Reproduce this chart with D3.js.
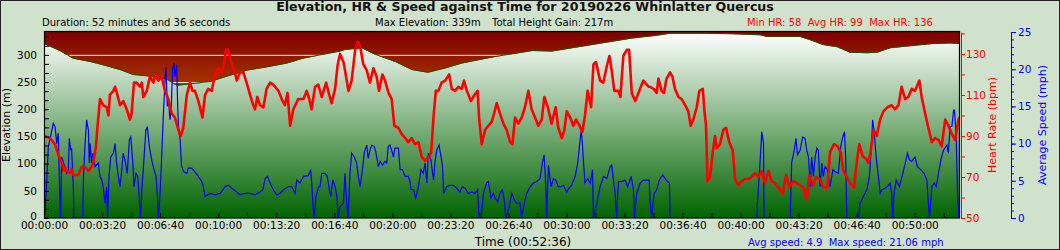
<!DOCTYPE html>
<html>
<head>
<meta charset="utf-8">
<script src="https://cdn.jsdelivr.net/npm/d3@7"></script>
<style>
  body { margin: 0; background: #d0e2cc; }
  svg { display: block; font-family: "DejaVu Sans", Verdana, sans-serif; }
</style>
</head>
<body>
<svg id="chart" width="1060" height="250"></svg>
<script>
// Elevation profile (seconds, metres)
const elevTime = [0, 55, 100, 159, 203, 262, 307, 365, 424, 458, 503, 572, 631, 700, 768, 837, 892, 961, 1020, 1037, 1096, 1141, 1210, 1268, 1323, 1382, 1440, 1496, 1554, 1613, 1682, 1750, 1819, 1888, 1957, 2026, 2095, 2123, 2157, 2260, 2374, 2467, 2491, 2605, 2640, 2684, 2733, 2777, 2836, 2870, 2915, 2984, 3063, 3122, 3156];
const elevValue = [320, 307, 293, 287, 281, 272, 263, 260, 254, 243, 246, 250, 260, 271, 277, 284, 293, 300, 306, 309, 312, 300, 287, 272, 267, 275, 284, 290, 296, 301, 307, 306, 312, 318, 324, 330, 334, 336, 339, 339, 338, 336, 333, 333, 327, 318, 314, 304, 303, 304, 312, 316, 320, 321, 320];

// Heart rate (seconds, bpm)
const hrTime = [0, 20, 38, 49, 61, 67, 72, 78, 90, 95, 101, 118, 130, 141, 153, 164, 170, 179, 184, 193, 204, 216, 222, 227, 239, 245, 253, 262, 273, 285, 296, 302, 310, 319, 331, 337, 342, 354, 365, 377, 382, 394, 405, 417, 428, 440, 451, 463, 471, 480, 492, 503, 512, 520, 532, 546, 555, 566, 578, 589, 601, 612, 620, 627, 635, 647, 658, 664, 675, 687, 698, 710, 721, 727, 735, 744, 756, 767, 779, 790, 808, 819, 830, 839, 848, 859, 876, 894, 905, 914, 922, 934, 945, 957, 972, 983, 991, 1003, 1012, 1020, 1032,
  1037, 1049, 1060, 1072, 1081, 1089, 1100, 1112, 1123, 1135, 1146, 1154, 1166, 1175, 1187, 1198, 1207, 1221, 1232, 1244, 1255, 1267, 1278, 1290, 1301, 1313, 1327, 1334, 1342, 1350, 1359, 1370, 1382, 1396, 1405, 1416, 1428, 1439, 1447, 1457, 1471, 1483, 1494, 1499, 1508, 1520, 1531, 1543, 1551, 1560, 1571, 1583, 1594, 1606, 1614, 1623, 1634, 1646, 1657, 1669, 1680, 1692, 1703, 1715, 1724, 1736, 1749, 1763, 1772, 1784, 1793, 1801, 1813, 1824, 1833, 1845, 1855, 1864, 1873, 1885, 1893, 1902, 1916, 1927, 1939, 1948, 1956, 1965, 1979, 1986, 1996, 2008, 2016, 2025, 2037, 2048, 2065, 2083,
  2088, 2100, 2111, 2117, 2128, 2136, 2145, 2157, 2165, 2174, 2186, 2197, 2209, 2220, 2228, 2237, 2249, 2258, 2270, 2275, 2281, 2286, 2295, 2304, 2312, 2318, 2329, 2341, 2350, 2361, 2373, 2381, 2392, 2404, 2415, 2427, 2438, 2450, 2461, 2473, 2484, 2496, 2507, 2519, 2530, 2545, 2557, 2568, 2582, 2593, 2605, 2616, 2628, 2637, 2649, 2660, 2674, 2685, 2699, 2708, 2722, 2734, 2745, 2754, 2766, 2777, 2791, 2800, 2809, 2821, 2832, 2840, 2848, 2858, 2869, 2881, 2892, 2906, 2921, 2932, 2944, 2955, 2967, 2978, 2990, 3001, 3016, 3024, 3036, 3047, 3059, 3070, 3082, 3093, 3105, 3116, 3128, 3139, 3151, 3156];
const hrValue = [90, 89, 86, 81, 77, 73, 75, 73, 72, 74, 71, 71, 75, 75, 73, 75, 77, 85, 94, 108, 105, 104, 100, 110, 112, 114, 110, 105, 107, 103, 98, 101, 116, 116, 114, 116, 109, 112, 119, 116, 120, 117, 119, 112, 108, 101, 99, 93, 90, 94, 110, 116, 112, 112, 107, 99, 110, 113, 112, 120, 123, 121, 125, 132, 132, 125, 121, 117, 121, 121, 116, 110, 105, 103, 109, 105, 104, 113, 116, 115, 112, 108, 105, 111, 95, 103, 108, 108, 112, 108, 103, 114, 115, 109, 116, 110, 106, 113, 125, 130, 126,
  122, 112, 117, 132, 136, 134, 125, 122, 116, 123, 119, 112, 120, 117, 111, 108, 95, 94, 91, 89, 87, 89, 86, 87, 80, 78, 80, 82, 99, 112, 112, 116, 117, 120, 113, 112, 114, 113, 117, 112, 107, 110, 112, 99, 86, 93, 95, 97, 101, 106, 101, 96, 93, 87, 86, 99, 96, 99, 104, 112, 103, 99, 95, 98, 109, 104, 96, 104, 94, 89, 93, 102, 99, 95, 98, 95, 92, 100, 112, 104, 125, 126, 117, 116, 124, 129, 122, 112, 112, 109, 129, 132, 132, 111, 107, 111, 117, 114,
  114, 113, 111, 118, 112, 111, 118, 121, 119, 113, 109, 108, 105, 102, 95, 98, 104, 112, 113, 103, 95, 68, 70, 82, 90, 84, 86, 93, 94, 87, 83, 69, 66, 68, 69, 69, 70, 72, 70, 73, 67, 73, 68, 67, 65, 62, 71, 65, 68, 67, 66, 65, 59, 71, 66, 70, 69, 65, 65, 82, 86, 85, 82, 73, 70, 67, 65, 77, 86, 80, 79, 77, 82, 93, 90, 98, 102, 104, 105, 103, 105, 114, 108, 109, 113, 112, 117, 109, 101, 94, 87, 89, 88, 85, 98, 95, 91, 88, 98, 99];

// Average speed (seconds, mph)
const speedTime = [3, 15, 32, 38, 44, 49, 53, 57, 61, 67, 78, 84, 87, 92, 95, 101, 103, 133, 136, 141, 147, 153, 156, 159, 164, 168, 172, 176, 187, 193, 199, 204, 210, 216, 219, 224, 230, 239, 245, 250, 256, 262, 268, 273, 279, 287, 294, 299, 306, 310, 317, 323, 328, 333, 337, 342, 351, 356, 363, 371, 379, 386, 391, 394, 400, 405, 411, 417, 420, 425, 428, 434, 438, 443, 448, 451, 457, 461, 464, 469, 474, 482, 492, 497, 509, 520, 532, 543, 549, 555, 572, 589, 607, 624, 635, 647, 664, 675, 693, 710, 727, 744, 754, 762, 770, 779, 790, 802, 813, 825, 842, 854, 865, 871, 882, 894, 911, 919, 924, 926, 931, 937, 946, 951, 957, 968, 976, 983, 988, 995, 1003, 1009, 1014, 1020, 1032,
  1037, 1043, 1048, 1054, 1060, 1069, 1077, 1083, 1089, 1097, 1104, 1112, 1117, 1123, 1129, 1138, 1143, 1152, 1158, 1166, 1175, 1181, 1186, 1192, 1198, 1204, 1209, 1221, 1227, 1235, 1244, 1255, 1261, 1265, 1273, 1281, 1290, 1299, 1307, 1313, 1319, 1324, 1333, 1342, 1347, 1353, 1361, 1368, 1373, 1377, 1387, 1399, 1410, 1422, 1433, 1441, 1451, 1462, 1474, 1485, 1494, 1499, 1506, 1514, 1525, 1531, 1540, 1548, 1554, 1563, 1571, 1579, 1586, 1591, 1600, 1612, 1621, 1629, 1640, 1646, 1655, 1663, 1675, 1686, 1698, 1709, 1717, 1723, 1726, 1730, 1732, 1738, 1747, 1755, 1763, 1772, 1782, 1790, 1801, 1809, 1818, 1830, 1839, 1847, 1851, 1855, 1859, 1864, 1874, 1882, 1890, 1893, 1905, 1916, 1928, 1939, 1951, 1956, 1962, 1968, 1973, 1979, 1991, 2002, 2011, 2023, 2031, 2034, 2042, 2054, 2065, 2077, 2085,
  2088, 2094, 2102, 2111, 2120, 2132, 2140, 2148, 2155, 2157, 2456, 2458, 2467, 2473, 2479, 2481, 2571, 2576, 2584, 2591, 2596, 2605, 2614, 2622, 2628, 2634, 2640, 2645, 2651, 2657, 2663, 2668, 2674, 2680, 2685, 2691, 2699, 2708, 2718, 2726, 2737, 2745, 2752, 2758, 2762, 2766, 2806, 2812, 2823, 2835, 2844, 2852, 2855, 2860, 2867, 2875, 2881, 2887, 2898, 2910, 2915, 2921, 2924, 2929, 2936, 2947, 2959, 2970, 2975, 2982, 2990, 3001, 3009, 3021, 3032, 3042, 3047, 3051, 3059, 3067, 3074, 3082, 3090, 3099, 3111, 3116, 3122, 3128, 3134, 3137, 3143, 3147, 3152, 3156];
const speedValue = [0, 9.6, 12.7, 12.3, 10.0, 11.4, 5.1, 0, 8.2, 7.4, 6.0, 6.5, 10.7, 9.1, 9.4, 4.2, 0, 0, 5.6, 9.6, 13.2, 11.8, 7.4, 10.0, 7.4, 8.7, 7.8, 6.9, 7.4, 5.6, 5.1, 4.2, 2.0, 4.2, 0, 5.6, 8.2, 8.7, 10.0, 7.4, 5.6, 4.2, 6.5, 8.7, 7.8, 6.0, 10.5, 10.9, 7.4, 4.2, 6.0, 5.6, 2.9, 0, 3.8, 6.5, 11.8, 12.3, 9.6, 7.8, 6.5, 5.6, 2.9, 0, 3.3, 7.8, 13.6, 18.6, 20.3, 15.0, 16.3, 13.2, 14.5, 19.9, 20.8, 19.0, 20.6, 14.5, 11.8, 10.5, 6.9, 6.2, 6.0, 6.7, 6.7, 6.2, 5.6, 4.9, 4.2, 2.9, 3.3, 3.1, 3.3, 4.2, 4.4, 4.0, 3.5, 3.1, 3.3, 3.3, 3.1, 3.5, 3.8, 5.3, 5.6, 4.7, 3.8, 3.1, 3.3, 3.8, 4.2, 4.2, 3.3, 5.1, 4.7, 5.6, 5.7, 6.5, 3.8, 2.0, 0, 2.9, 4.2, 4.2, 6.0, 6.0, 5.6, 3.8, 2.9, 5.1, 4.2, 2.9, 0, 1.5, 2.0,
  6.0, 2.0, 0, 6.0, 8.7, 8.2, 7.4, 5.6, 4.2, 6.5, 8.9, 9.8, 8.0, 9.1, 9.8, 9.6, 8.9, 6.9, 7.6, 7.1, 7.6, 7.4, 9.6, 9.8, 9.1, 8.2, 9.4, 9.4, 6.5, 6.5, 5.6, 5.6, 4.9, 3.8, 3.8, 2.7, 4.2, 6.5, 6.0, 7.4, 4.7, 8.7, 7.8, 5.1, 7.4, 9.1, 9.8, 8.2, 6.9, 3.3, 4.2, 4.4, 4.4, 4.0, 3.5, 4.2, 4.0, 3.3, 3.5, 3.3, 3.8, 0, 0, 3.3, 4.7, 4.9, 2.7, 3.3, 2.7, 2.2, 3.3, 3.8, 2.4, 0, 1.1, 3.3, 2.4, 2.0, 2.0, 0, 2.0, 3.3, 4.2, 4.7, 4.9, 5.3, 7.4, 8.5, 6.5, 3.3, 0, 7.1, 4.2, 5.3, 5.1, 4.2, 4.2, 4.4, 3.5, 4.0, 4.4, 5.6, 7.4, 10.5, 11.8, 10.0, 7.4, 4.7, 5.3, 4.7, 6.5, 0, 2.0, 4.2, 5.6, 5.3, 6.9, 7.1, 5.1, 3.3, 0, 4.9, 4.9, 5.1, 4.2, 5.6, 3.8, 0, 3.3, 4.7, 5.1, 5.1, 5.1,
  2.4, 0, 3.3, 3.8, 5.1, 5.8, 5.3, 4.9, 4.7, 0, 0, 2.0, 7.4, 11.6, 10.0, 0, 0, 7.4, 8.9, 10.7, 8.5, 9.1, 10.9, 10.7, 9.1, 8.2, 4.2, 8.2, 5.6, 8.2, 9.4, 9.1, 4.2, 7.4, 5.6, 6.9, 6.5, 4.2, 6.5, 6.2, 6.0, 9.6, 10.9, 11.6, 8.2, 0, 0, 2.0, 2.9, 3.8, 5.6, 10.5, 13.2, 11.8, 8.2, 5.6, 3.3, 3.8, 4.0, 4.4, 4.7, 3.3, 0, 3.3, 5.1, 4.2, 6.0, 7.8, 8.7, 7.8, 7.6, 8.2, 6.9, 6.5, 6.0, 5.1, 2.0, 0, 4.2, 4.7, 4.2, 6.0, 7.8, 9.1, 9.8, 8.7, 12.3, 12.3, 14.5, 14.5, 10.9, 3.8, 0, 0];

const titleText = "Elevation, HR & Speed against Time for 20190226 Whinlatter Quercus";
const durationText = "Duration: 52 minutes and 36 seconds";
const maxElevText = "Max Elevation: 339m";
const gainText = "Total Height Gain: 217m";
const hrSummaryText = "Min HR: 58  Avg HR: 99  Max HR: 136";
const timeLabel = "Time (00:52:36)";
const speedSummaryText = "Avg speed: 4.9  Max speed: 21.06 mph";
const totalSeconds = 3156;

const svg = d3.select("#chart");
const W = 1060, H = 250;
const margin = {top: 32, left: 44, right: 100, bottom: 32};
const plotW = 916, plotH = 186;
const bottom = margin.top + plotH;

const x = d3.scaleLinear().domain([0, totalSeconds]).range([margin.left, margin.left + plotW]);
const yElev = d3.scaleLinear().domain([0, 342]).range([bottom, margin.top]);
const yHR = d3.scaleLinear().domain([50, 140.7]).range([bottom, margin.top]);
const ySpeed = d3.scaleLinear().domain([0, 25]).range([bottom, margin.top]);

// background + outer border
svg.append("rect").attr("x", 0.5).attr("y", 0.5).attr("width", W - 1).attr("height", H - 1)
  .attr("fill", "#d0e2cc").attr("stroke", "#222");

const defs = svg.append("defs");
const sky = defs.append("linearGradient").attr("id", "sky")
  .attr("gradientUnits", "userSpaceOnUse").attr("x1", 0).attr("x2", 0)
  .attr("y1", margin.top).attr("y2", bottom);
sky.append("stop").attr("offset", 0).attr("stop-color", "#800000");
sky.append("stop").attr("offset", 0.3).attr("stop-color", "#a83800");
sky.append("stop").attr("offset", 1).attr("stop-color", "#ff9900");

const ground = defs.append("linearGradient").attr("id", "ground")
  .attr("gradientUnits", "userSpaceOnUse").attr("x1", 0).attr("x2", 0)
  .attr("y1", margin.top).attr("y2", bottom);
ground.append("stop").attr("offset", 0).attr("stop-color", "#ffffff");
ground.append("stop").attr("offset", 1).attr("stop-color", "#006400");

defs.append("clipPath").attr("id", "plotClip").append("rect")
  .attr("x", margin.left).attr("y", margin.top).attr("width", plotW).attr("height", plotH);

svg.append("rect").attr("x", margin.left).attr("y", margin.top)
  .attr("width", plotW).attr("height", plotH).attr("fill", "url(#sky)");

// white grid lines on elevation ticks
svg.append("g").selectAll("line").data(d3.range(50, 301, 50)).join("line")
  .attr("x1", margin.left).attr("x2", margin.left + plotW)
  .attr("y1", d => yElev(d) + 0.5).attr("y2", d => yElev(d) + 0.5)
  .attr("stroke", "#f4f4f4").attr("stroke-width", 1);

const elevData = elevTime.map((t, i) => ({t, v: elevValue[i]}));
const hrData = hrTime.map((t, i) => ({t, v: hrValue[i]}));
const speedData = speedTime.map((t, i) => ({t, v: speedValue[i]}));

const plot = svg.append("g").attr("clip-path", "url(#plotClip)");

plot.append("path").datum(elevData)
  .attr("fill", "url(#ground)")
  .attr("d", d3.area().x(d => x(d.t)).y0(bottom).y1(d => yElev(d.v)));

plot.append("path").datum(elevData)
  .attr("fill", "none").attr("stroke", "#0b5f0b").attr("stroke-width", 1)
  .attr("d", d3.line().x(d => x(d.t)).y(d => yElev(d.v) - 0.5));

plot.append("path").datum(speedData)
  .attr("fill", "none").attr("stroke", "#0000ff").attr("stroke-width", 1.2)
  .attr("d", d3.line().x(d => x(d.t)).y(d => ySpeed(d.v)));

plot.append("path").datum(hrData)
  .attr("fill", "none").attr("stroke", "#ff0000").attr("stroke-width", 2.6)
  .attr("stroke-linejoin", "round")
  .attr("d", d3.line().x(d => x(d.t)).y(d => yHR(d.v)));

// plot frame
svg.append("rect").attr("x", margin.left + 0.5).attr("y", margin.top - 0.5)
  .attr("width", plotW - 1).attr("height", plotH + 0.5)
  .attr("fill", "none").attr("stroke", "#000").attr("stroke-width", 1.2);

function styleAxis(g, color, size) {
  g.selectAll("text").attr("fill", color).style("font-size", size)
    .style("font-family", "DejaVu Sans, Verdana, sans-serif");
  g.selectAll("line").attr("stroke", color);
  g.select(".domain").attr("stroke", color);
}

const pad = n => String(n).padStart(2, "0");
const fmtTime = s => `${pad(Math.floor(s / 3600))}:${pad(Math.floor(s / 60) % 60)}:${pad(s % 60)}`;

// time axis
const gx = svg.append("g").attr("transform", `translate(0,${bottom})`)
  .call(d3.axisBottom(x).tickValues(d3.range(0, totalSeconds, 100))
    .tickSizeInner(-5).tickSizeOuter(0).tickPadding(4)
    .tickFormat(d => d % 200 === 0 ? fmtTime(d) : ""));
gx.select(".domain").remove();
styleAxis(gx, "#000", "10.5px");

// elevation axis
const gy = svg.append("g").attr("transform", `translate(${margin.left},0)`)
  .call(d3.axisLeft(yElev).tickValues(d3.range(0, 21).map(i => i * 50 / 3))
    .tickSizeInner(-5).tickSizeOuter(0).tickPadding(7)
    .tickFormat(d => Math.abs(d / 50 - Math.round(d / 50)) < 1e-6 ? Math.round(d) : ""));
gy.select(".domain").remove();
styleAxis(gy, "#000", "10.5px");
// the zero label sits just above the time labels
gy.selectAll(".tick").filter(d => d === 0).select("text").attr("dy", "0.1em");

// heart rate axis
const gh = svg.append("g").attr("transform", `translate(${margin.left + plotW + 1},0)`)
  .call(d3.axisRight(yHR).tickValues(d3.range(50, 141, 10))
    .tickSizeInner(4).tickSizeOuter(0).tickPadding(1)
    .tickFormat(d => (d - 50) % 20 === 0 ? d : ""));
styleAxis(gh, "#ff0000", "10.5px");

// speed axis: minor + major ticks
const speedX = 1011;
const gsMinor = svg.append("g").attr("transform", `translate(${speedX},0)`)
  .call(d3.axisRight(ySpeed).tickValues(d3.range(0, 26, 1)).tickSizeInner(3).tickSizeOuter(0).tickFormat(""));
styleAxis(gsMinor, "#0000ff", "10.5px");
const gsMajor = svg.append("g").attr("transform", `translate(${speedX},0)`)
  .call(d3.axisRight(ySpeed).tickValues(d3.range(0, 26, 5)).tickSizeInner(5).tickSizeOuter(0).tickPadding(2));
gsMajor.select(".domain").remove();
styleAxis(gsMajor, "#0000ff", "10.5px");

// axis titles
svg.append("text").attr("transform", `translate(10,${margin.top + plotH / 2}) rotate(-90)`)
  .attr("text-anchor", "middle").style("font-size", "11px").text("Elevation (m)");
svg.append("text").attr("transform", `translate(996,${margin.top + plotH / 2}) rotate(-90)`)
  .attr("text-anchor", "middle").style("font-size", "11px").attr("fill", "#ff0000").text("Heart Rate (bpm)");
svg.append("text").attr("transform", `translate(1046,${margin.top + plotH / 2}) rotate(-90)`)
  .attr("text-anchor", "middle").style("font-size", "11px").attr("fill", "#0000ff").text("Average Speed (mph)");

// header texts
svg.append("text").attr("x", 525).attr("y", 11).attr("text-anchor", "middle")
  .style("font-size", "12.6px").style("font-weight", "bold").attr("fill", "#111").text(titleText);
const info = [
  {text: durationText, x: 42, color: "#000"},
  {text: maxElevText, x: 375, color: "#000"},
  {text: gainText, x: 492, color: "#000"},
  {text: hrSummaryText, x: 747, color: "#ff0000"}
];
svg.append("g").selectAll("text").data(info).join("text")
  .attr("x", d => d.x).attr("y", 26).attr("fill", d => d.color)
  .style("font-size", "10px").style("white-space", "pre").text(d => d.text);

// footer texts
svg.append("text").attr("x", 523).attr("y", 246).attr("text-anchor", "middle")
  .style("font-size", "12px").text(timeLabel);
svg.append("text").attr("x", 748).attr("y", 246).attr("fill", "#0000ff")
  .style("font-size", "10px").style("white-space", "pre").text(speedSummaryText);
</script>
</body>
</html>
